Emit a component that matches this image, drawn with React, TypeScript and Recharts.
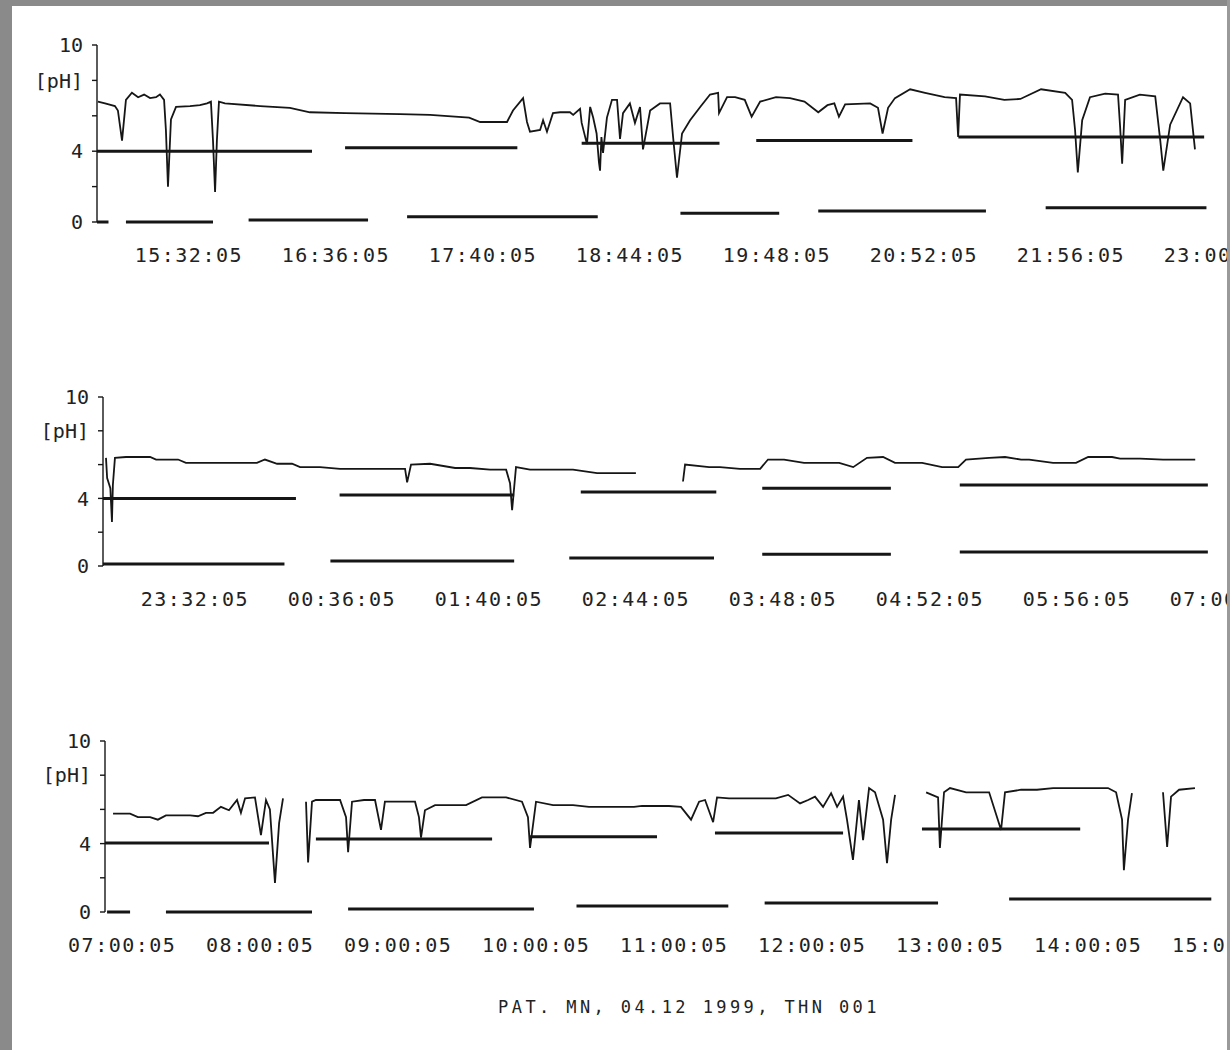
import { LineChart, Line, XAxis, YAxis } from "recharts";

type Pt = [number, number | null];
type Seg = [number, number, number];

// x values are minutes from the left edge of each panel's plot, y values are pH

// panel 1 (afternoon / evening)
const eveningPh: Pt[] = [
  [0.4, 6.8], [3.5, 6.7], [7.8, 6.55], [9.1, 6.3], [10.9, 4.6], [12.6, 6.9], [15.2, 7.3], [17.9, 7.05],
  [20.5, 7.2], [23.1, 7.0], [25.7, 7.05], [27.4, 7.2], [29.2, 6.9], [30, 5.2], [30.9, 2.0], [32.2, 5.8],
  [34.4, 6.5], [40.5, 6.55], [44.8, 6.6], [47.9, 6.7], [49.6, 6.8], [50.5, 4.6], [51.4, 1.7], [52.2, 4.6],
  [53.1, 6.8], [55.7, 6.7], [71, 6.55], [84, 6.45], [92.7, 6.2], [108, 6.15], [132, 6.1], [145, 6.05],
  [162, 5.9], [166.8, 5.65], [178.5, 5.65], [181.1, 6.3], [185.5, 7.0], [187.2, 5.65], [188.5, 5.1],
  [192.9, 5.2], [194.2, 5.75], [195.9, 5.1], [198.5, 6.15], [201.6, 6.2], [205.9, 6.2], [207.3, 6.05],
  [210.3, 6.4], [211, 5.6], [213.3, 4.4], [214.7, 6.5], [216, 5.9], [217.5, 5.0], [218.5, 3.4], [219, 2.9],
  [219.6, 4.8], [220.3, 3.9], [222, 5.9], [224.2, 6.9], [226.4, 6.9], [227.7, 4.7], [229, 6.15], [232, 6.7],
  [234.2, 5.6], [236.4, 6.5], [237.7, 4.1], [240.8, 6.3], [245.1, 6.7], [249.5, 6.7], [250.8, 4.8],
  [252.5, 2.5], [254.7, 5.0], [258.2, 5.75], [262.6, 6.5], [266.9, 7.2], [270.4, 7.3], [270.8, 6.15],
  [274.3, 7.05], [277.8, 7.05], [282, 6.9], [285, 5.95], [288.7, 6.8], [295.6, 7.05], [301.7, 7.0],
  [308, 6.8], [314, 6.2], [318, 6.6], [321, 6.7], [323, 5.95], [325.7, 6.65], [336.6, 6.7], [340, 6.45],
  [342, 5.0], [344.4, 6.45], [347.4, 7.0], [354, 7.5], [360.5, 7.3], [369, 7.05], [374, 7.0], [374.9, 4.8],
  [375.7, 7.2], [386.6, 7.1], [395, 6.9], [402, 6.95], [411, 7.5], [421.5, 7.3], [424.5, 6.9], [425.8, 5.2],
  [427, 2.8], [428.9, 5.75], [432.3, 7.05], [438.9, 7.25], [444.5, 7.2], [445.4, 5.4], [446.3, 3.3],
  [447.6, 6.9], [454, 7.2], [460.7, 7.1], [462.9, 4.6], [464.2, 2.9], [467.2, 5.5], [472.8, 7.05],
  [475.9, 6.7], [478, 4.1],
];
const eveningRef: Seg[] = [[0, 93.6, 4.0], [108, 183, 4.2], [211, 271, 4.45], [287, 355, 4.6], [375, 482, 4.8]];
const eveningBase: Seg[] = [[0, 5, 0], [12.6, 50.5, 0], [66, 118, 0.12], [135, 218, 0.3], [254, 297, 0.5], [314, 387, 0.62], [413, 483, 0.8]];
const eveningTickAt = [40, 104, 168, 232, 296, 360, 424, 488];
const eveningLabels = ["15:32:05", "16:36:05", "17:40:05", "18:44:05", "19:48:05", "20:52:05", "21:56:05", "23:00:05"];

// panel 2 (night)
const nightPh: Pt[] = [
  [1.3, 6.4], [1.8, 5.2], [3.2, 4.6], [3.9, 2.6], [4.3, 4.8], [5.2, 6.4], [10, 6.45], [20.5, 6.45],
  [23.1, 6.3], [32.7, 6.3], [36.1, 6.1], [41.4, 6.1], [50.5, 6.1], [67, 6.1], [70.5, 6.3], [75.8, 6.05],
  [82.3, 6.05], [85.8, 5.85], [94.5, 5.85], [103.2, 5.75], [117.1, 5.75], [131.5, 5.75], [132.4, 4.95],
  [134.1, 6.0], [142.4, 6.05], [153.3, 5.8], [159.8, 5.8], [168.5, 5.7], [175.5, 5.7], [177.2, 4.9],
  [178.1, 3.3], [179.8, 5.85], [185.9, 5.7], [204.6, 5.7], [215.1, 5.5], [232, 5.5], [240, null],
  [252.5, 5.0], [253.4, 6.0], [263.9, 5.85], [268.6, 5.85], [277.3, 5.75], [286.1, 5.75], [289.5, 6.3],
  [296.5, 6.3], [305.2, 6.1], [320.5, 6.1], [326.6, 5.85], [332.6, 6.4], [339.6, 6.45], [344.8, 6.1],
  [356.6, 6.1], [365.3, 5.85], [372.3, 5.85], [375.7, 6.3], [385.8, 6.4], [392.7, 6.45], [399.7, 6.3],
  [403.2, 6.3], [413.6, 6.1], [423.6, 6.1], [428.9, 6.45], [439.3, 6.45], [442.8, 6.35], [451.5, 6.35],
  [461.5, 6.3], [475.5, 6.3],
];
const nightRef: Seg[] = [[0, 84, 4.0], [103, 179, 4.2], [208, 267, 4.38], [287, 343, 4.6], [373, 481, 4.8]];
const nightBase: Seg[] = [[0, 79, 0.12], [99, 179, 0.3], [203, 266, 0.47], [287, 343, 0.7], [373, 481, 0.83]];
const nightTickAt = [40, 104, 168, 232, 296, 360, 424, 488];
const nightLabels = ["23:32:05", "00:36:05", "01:40:05", "02:44:05", "03:48:05", "04:52:05", "05:56:05", "07:00:05"];

// panel 3 (morning / day)
const dayPh: Pt[] = [
  [3.5, 5.75], [10.9, 5.75], [14.3, 5.55], [19.6, 5.55], [23, 5.4], [26.5, 5.65], [37, 5.65], [40.4, 5.6],
  [43.9, 5.8], [47, 5.8], [50.4, 6.15], [53.9, 5.95], [57.4, 6.55], [59.1, 5.8], [60.9, 6.65], [65.2, 6.7],
  [67.8, 4.5], [70, 6.55], [71.7, 6.0], [73.9, 1.7], [75.7, 5.2], [77.4, 6.65], [82, null], [87.4, 6.45],
  [88.3, 2.9], [90, 6.45], [91.7, 6.55], [98.7, 6.55], [102.2, 6.55], [104.8, 5.55], [105.7, 3.5],
  [107.4, 6.45], [112.6, 6.55], [117.4, 6.55], [120, 4.8], [121.7, 6.45], [126.1, 6.45], [134.8, 6.45],
  [136.5, 5.55], [137.4, 4.35], [139.1, 5.95], [143.5, 6.25], [157, 6.25], [163.9, 6.7], [174.4, 6.7],
  [181.3, 6.45], [183.9, 5.55], [184.8, 3.75], [187.4, 6.45], [194.8, 6.25], [203.5, 6.25], [210.4, 6.15],
  [222.6, 6.15], [230, 6.15], [233.5, 6.2], [245.2, 6.2], [250.4, 6.15], [254.8, 5.4], [258.3, 6.45],
  [260.9, 6.55], [264.4, 5.25], [266.1, 6.7], [271.3, 6.65], [291.7, 6.65], [297, 6.85], [302.2, 6.35],
  [305.7, 6.55], [308.7, 6.75], [312.2, 6.15], [315.7, 6.95], [318.3, 6.15], [320.9, 6.75], [322.6, 5.4],
  [325.2, 3.05], [327.8, 6.55], [329.6, 4.2], [332.2, 7.25], [334.8, 7.0], [338.3, 5.4], [340, 2.85],
  [341.8, 5.4], [343.5, 6.85], [350, null], [357, 7.0], [362.2, 6.7], [363, 3.75], [364.8, 7.0],
  [367.4, 7.25], [374.4, 7.0], [384.4, 7.0], [389.6, 4.8], [391.3, 7.0], [398.3, 7.15], [405.2, 7.15],
  [412.2, 7.25], [436.1, 7.25], [439.6, 7.0], [442.2, 5.4], [443, 2.45], [444.8, 5.4], [446.5, 6.95],
  [452, null], [460, 7.0], [461.8, 3.8], [463.5, 6.75], [467, 7.15], [473.9, 7.25],
];
const dayRef: Seg[] = [[0, 71.3, 4.03], [91.7, 168.3, 4.27], [184.8, 240, 4.4], [265.2, 320.9, 4.62], [355.2, 424, 4.85]];
const dayBase: Seg[] = [[0.9, 10.9, 0], [26.5, 90, 0], [105.7, 186.5, 0.18], [205, 271, 0.35], [286.8, 362.2, 0.53], [393.1, 481, 0.76]];
const dayTickAt = [7.5, 67.5, 127.5, 187.5, 247.5, 307.5, 367.5, 427.5, 487.5];
const dayLabels = ["07:00:05", "08:00:05", "09:00:05", "10:00:05", "11:00:05", "12:00:05", "13:00:05", "14:00:05", "15:00:05"];

const yTicks = [0, 2, 4, 6, 8, 10];
const yLabels: Record<number, string> = { 0: "0", 2: "", 4: "4", 6: "", 8: "[pH]", 10: "10" };
const title = "PAT. MN, 04.12 1999, THN 001";

const INK = "#161616";
const FONT = "'DejaVu Sans Mono', monospace";
const CHART_W = 1240;
const SPAN = 490;
const PAD_TOP = 45;
const AXIS_H = 60;

const segRows = (segs: Seg[]) =>
  segs.flatMap(([a, b, v]) => [{ t: a, v }, { t: b, v }, { t: b + 0.01, v: null }]);
const ptRows = (pts: Pt[]) => pts.map(([t, v]) => ({ t, v }));

interface PanelProps {
  y10: number;
  y0: number;
  left: number;
  pxPerMin: number;
  ph: Pt[];
  refSegs: Seg[];
  baseSegs: Seg[];
  tickAt: number[];
  labels: string[];
}

function Panel({ y10, y0, left, pxPerMin, ph, refSegs, baseSegs, tickAt, labels }: PanelProps) {
  const right = CHART_W - (left + SPAN * pxPerMin);
  const XTick = (props: any) => (
    <text
      x={props.x}
      y={props.y + 40}
      textAnchor="middle"
      fontFamily={FONT}
      fontSize={20}
      letterSpacing={1.5}
      fill="#222"
    >
      {labels[props.index]}
    </text>
  );
  return (
    <div style={{ position: "absolute", left: 0, top: y10 - PAD_TOP }}>
      <LineChart
        width={CHART_W}
        height={y0 - y10 + PAD_TOP + AXIS_H}
        margin={{ top: PAD_TOP, right, bottom: 0, left: 0 }}
      >
        <XAxis
          type="number"
          dataKey="t"
          domain={[0, SPAN]}
          ticks={tickAt}
          interval={0}
          axisLine={false}
          tickLine={false}
          tickSize={0}
          tickMargin={0}
          height={AXIS_H}
          tick={<XTick />}
          allowDataOverflow
        />
        <YAxis
          type="number"
          domain={[0, 10]}
          ticks={yTicks}
          interval={0}
          width={left}
          axisLine={{ stroke: INK, strokeWidth: 1.4 }}
          tickLine={{ stroke: INK, strokeWidth: 1.4 }}
          tickSize={5}
          tickMargin={9}
          tickFormatter={(v: number) => yLabels[v] ?? ""}
          tick={{ fontFamily: FONT, fontSize: 20, fill: "#222" }}
        />
        <Line data={segRows(baseSegs)} dataKey="v" stroke={INK} strokeWidth={3} dot={false} activeDot={false} connectNulls={false} isAnimationActive={false} />
        <Line data={segRows(refSegs)} dataKey="v" stroke={INK} strokeWidth={3} dot={false} activeDot={false} connectNulls={false} isAnimationActive={false} />
        <Line data={ptRows(ph)} dataKey="v" type="linear" stroke={INK} strokeWidth={1.8} dot={false} activeDot={false} connectNulls={false} isAnimationActive={false} />
      </LineChart>
    </div>
  );
}

export default function App() {
  return (
    <div style={{ position: "absolute", left: 0, top: 0, width: 1230, height: 1050, background: "#fff", overflow: "hidden" }}>
      <Panel y10={45} y0={222} left={97} pxPerMin={2.297} ph={eveningPh} refSegs={eveningRef} baseSegs={eveningBase} tickAt={eveningTickAt} labels={eveningLabels} />
      <Panel y10={397} y0={566} left={103} pxPerMin={2.297} ph={nightPh} refSegs={nightRef} baseSegs={nightBase} tickAt={nightTickAt} labels={nightLabels} />
      <Panel y10={741} y0={912} left={105} pxPerMin={2.3} ph={dayPh} refSegs={dayRef} baseSegs={dayBase} tickAt={dayTickAt} labels={dayLabels} />
      <div
        style={{
          position: "absolute",
          left: 689,
          top: 997,
          transform: "translateX(-50%)",
          whiteSpace: "nowrap",
          fontFamily: FONT,
          fontSize: 17,
          letterSpacing: 3.4,
          color: "#222",
        }}
      >
        {title}
      </div>
      <div style={{ position: "absolute", left: 0, top: 0, width: 12, height: 1050, background: "#8a8a8a" }} />
      <div style={{ position: "absolute", left: 0, top: 0, width: 1230, height: 6, background: "#8a8a8a" }} />
      <div style={{ position: "absolute", left: 1227, top: 0, width: 3, height: 1050, background: "#9a9a9a" }} />
    </div>
  );
}
